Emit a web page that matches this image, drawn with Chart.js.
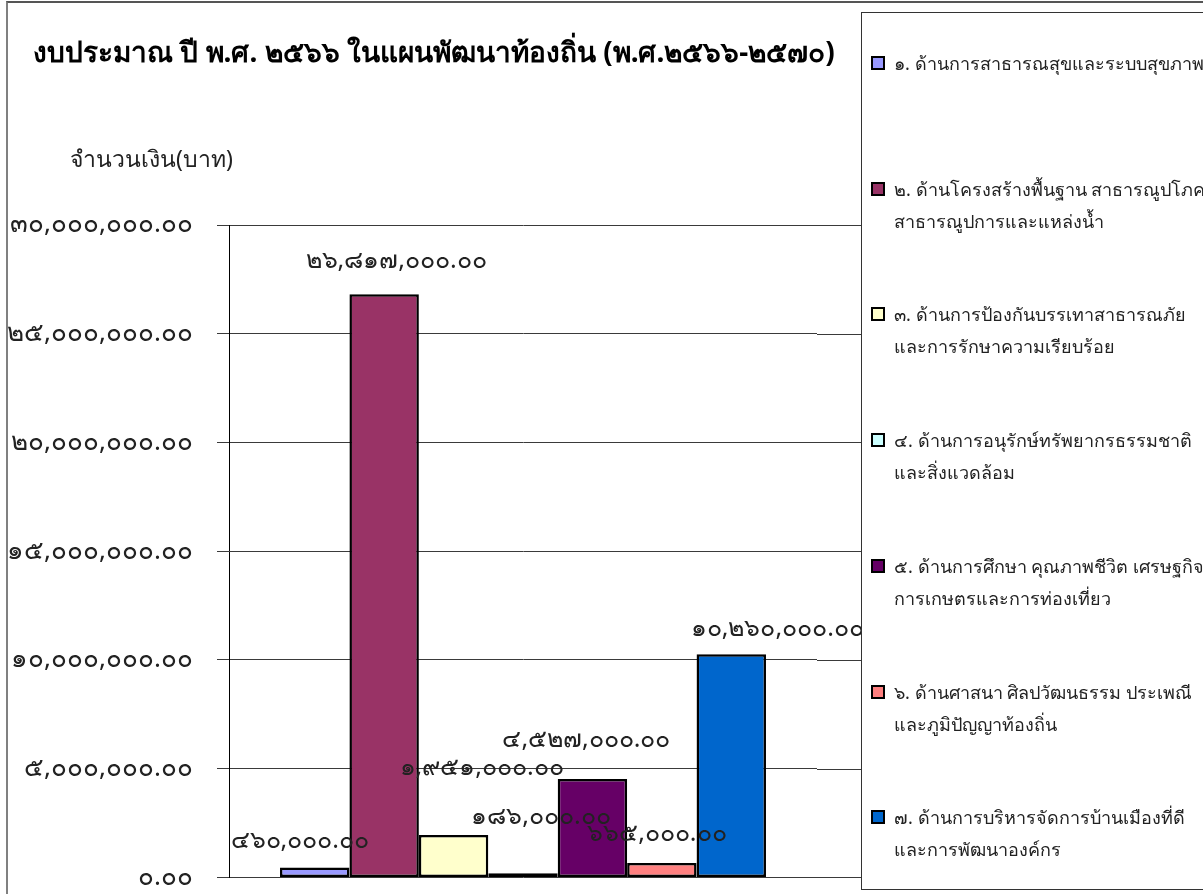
<!DOCTYPE html>
<html><head><meta charset="utf-8">
<script src="https://cdn.jsdelivr.net/npm/chart.js@4.4.1/dist/chart.umd.min.js"></script>
<style>
html,body{margin:0;padding:0;width:1203px;height:894px;overflow:hidden;background:#fff;font-family:"Noto Sans","Tahoma",sans-serif;}
#frame{position:absolute;left:6px;top:1px;width:1300px;height:1000px;border-left:2px solid #808080;border-top:2px solid #555;}
#wrap{position:absolute;left:0;top:0;width:1203px;height:894px;overflow:hidden;}
#title{position:absolute;left:33px;top:30px;font-size:28px;font-weight:bold;color:#000;white-space:nowrap;}
#ytitle{position:absolute;left:70px;top:141px;font-size:23px;color:#222;white-space:nowrap;}
#legend{position:absolute;left:861px;top:12px;width:400px;height:876px;border:1.5px solid #333;background:#fff;}
.item{position:absolute;left:9px;font-size:18px;color:#222;white-space:nowrap;line-height:32px;}
.sw{position:absolute;left:0;top:9px;width:10px;height:10px;border:2px solid #000;}
.txt{position:absolute;left:23px;top:0;}
</style></head>
<body>
<div id="wrap"><canvas id="c" width="1203" height="917"></canvas></div>
<div id="frame"></div>
<div id="title">งบประมาณ ปี พ.ศ. ๒๕๖๖ ในแผนพัฒนาท้องถิ่น (พ.ศ.๒๕๖๖-๒๕๗๐)</div>
<div id="ytitle">จำนวนเงิน(บาท)</div>
<div id="legend"></div>
<script>
const categories = ['งบประมาณ ปี ๒๕๖๖'];
const seriesNames = [
  ['๑. ด้านการสาธารณสุขและระบบสุขภาพ'],
  ['๒. ด้านโครงสร้างพื้นฐาน สาธารณูปโภค','สาธารณูปการและแหล่งน้ำ'],
  ['๓. ด้านการป้องกันบรรเทาสาธารณภัย','และการรักษาความเรียบร้อย'],
  ['๔. ด้านการอนุรักษ์ทรัพยากรธรรมชาติ','และสิ่งแวดล้อม'],
  ['๕. ด้านการศึกษา คุณภาพชีวิต เศรษฐกิจ','การเกษตรและการท่องเที่ยว'],
  ['๖. ด้านศาสนา ศิลปวัฒนธรรม ประเพณี','และภูมิปัญญาท้องถิ่น'],
  ['๗. ด้านการบริหารจัดการบ้านเมืองที่ดี','และการพัฒนาองค์กร']
];
const budgetValues = [460000, 26817000, 1951000, 186000, 4527000, 665000, 10260000];
const yTickValues = [0, 5000000, 10000000, 15000000, 20000000, 25000000, 30000000];

const colors = ['#9999FF','#993366','#FFFFCC','#CCFFFF','#660066','#FF8080','#0066CC'];
const labelShift = [[-15,-27],[12,-33],[28,-67],[18,-56],[-6,-39],[-5,-29],[46,-25]];

const thaiDigits = '๐๑๒๓๔๕๖๗๘๙';
function toThai(s){ return String(s).replace(/[0-9]/g, d => thaiDigits[+d]); }
function fmt(v){ return toThai(Number(v).toLocaleString('en-US',{minimumFractionDigits:2,maximumFractionDigits:2})); }

const lg = document.getElementById('legend');
seriesNames.forEach((lines,i)=>{
  const it = document.createElement('div');
  it.className='item';
  it.style.top = (34 + i*125.7) + 'px';
  const sw = document.createElement('div'); sw.className='sw'; sw.style.background=colors[i];
  const tx = document.createElement('div'); tx.className='txt'; tx.innerHTML = lines.join('<br>');
  it.appendChild(sw); it.appendChild(tx); lg.appendChild(it);
});

const valueLabels = {
  id:'valueLabels',
  afterDatasetsDraw(chart){
    const ctx = chart.ctx;
    ctx.save();
    ctx.font = '25px "Noto Sans", Tahoma, sans-serif';
    ctx.fillStyle = '#222';
    ctx.textAlign='center'; ctx.textBaseline='middle';
    chart.data.datasets.forEach((ds,i)=>{
      const el = chart.getDatasetMeta(i).data[0];
      const sh = labelShift[i];
      ctx.fillText(fmt(ds.data[0]), el.x + sh[0], el.y + sh[1]);
    });
    ctx.restore();
  }
};
const gridExtend = {
  id:'gridExtend',
  beforeDatasetsDraw(chart){
    const ctx = chart.ctx, ys = chart.scales.y, a = chart.chartArea;
    ctx.save(); ctx.strokeStyle='#3a3a3a'; ctx.lineWidth=1;
    ys.ticks.forEach(t=>{
      const y = Math.round(ys.getPixelForValue(t.value))+0.5;
      ctx.beginPath(); ctx.moveTo(a.right, y); ctx.lineTo(862, y); ctx.stroke();
    });
    ctx.restore();
  }
};

new Chart(document.getElementById('c'), {
  type:'bar',
  data:{
    labels: categories,
    datasets: budgetValues.map((v,i)=>({
      label: seriesNames[i].join(' '),
      data:[v],
      backgroundColor: colors[i],
      borderColor:'#000',
      borderWidth:2.5,
      borderSkipped:false
    }))
  },
  options:{
    responsive:false,
    animation:false,
    layout:{padding:{left:0,right:386,top:225,bottom:0}},
    plugins:{legend:{display:false},tooltip:{enabled:false},title:{display:false}},
    datasets:{bar:{categoryPercentage:0.8265,barPercentage:1.0}},
    scales:{
      x:{display:false},
      y:{
        min:0,max:30000000,
        afterFit(s){ s.width = 229; },
        afterBuildTicks(s){ s.ticks = yTickValues.map(v=>({value:v})); },
        ticks:{callback:v=>fmt(v), padding:24, color:'#222', font:{size:26, family:'"Noto Sans", Tahoma, sans-serif'}},
        grid:{color:'#3a3a3a', lineWidth:1, tickLength:12, drawTicks:true},
        border:{display:true, color:'#000', width:1}
      }
    }
  },
  plugins:[gridExtend, valueLabels]
});
</script>
</body></html>
